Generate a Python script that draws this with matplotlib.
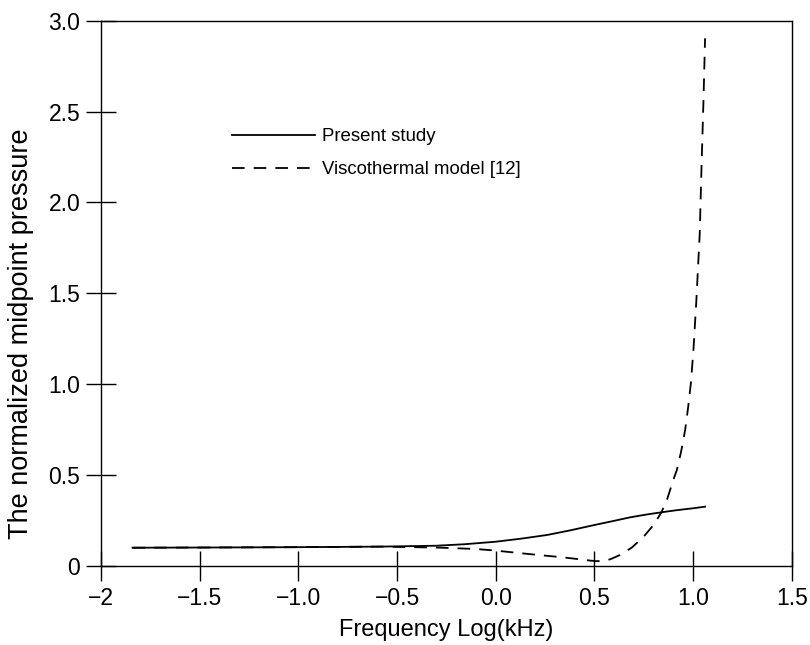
import matplotlib
matplotlib.use("Agg")
import matplotlib.pyplot as plt

plt.rcParams['font.family'] = ['Liberation Sans', 'DejaVu Sans']

# Data
present_x = [-1.84, -1.5, -1.0, -0.59, -0.3, -0.16, 0.0, 0.13, 0.26, 0.38, 0.5, 0.6, 0.68,
             0.76, 0.84, 0.92, 1.0, 1.061]
present_y = [0.099, 0.100, 0.102, 0.105, 0.110, 0.118, 0.132, 0.149, 0.169, 0.195, 0.224,
             0.247, 0.266, 0.281, 0.294, 0.306, 0.316, 0.325]

visco_x = [-1.84, -1.5, -1.0, -0.59, -0.3, -0.10, 0.0, 0.17, 0.34, 0.42, 0.48, 0.51, 0.54,
           0.58, 0.63, 0.69, 0.75, 0.80, 0.84, 0.87, 0.90, 0.918, 0.94, 0.96, 0.975, 0.989,
           1.002, 1.017, 1.034, 1.043, 1.053, 1.061]
visco_y = [0.099, 0.100, 0.102, 0.105, 0.100, 0.092, 0.083, 0.064, 0.046, 0.036, 0.028,
           0.025, 0.026, 0.035, 0.059, 0.100, 0.160, 0.224, 0.294, 0.370, 0.472, 0.527,
           0.630, 0.747, 0.870, 1.004, 1.187, 1.462, 1.829, 2.196, 2.563, 2.903]

x_ticks = [-2, -1.5, -1.0, -0.5, 0.0, 0.5, 1.0, 1.5]
x_labels = ["\u22122", "\u22121.5", "\u22121.0", "\u22120.5", "0.0", "0.5", "1.0", "1.5"]
y_ticks = [0, 0.5, 1.0, 1.5, 2.0, 2.5, 3.0]
y_labels = ["0", "0.5", "1.0", "1.5", "2.0", "2.5", "3.0"]

W, H = 810, 645
fig = plt.figure(figsize=(W / 100, H / 100), dpi=100)
ax = fig.add_axes([101 / W, 1 - 565.7 / H, (791.7 - 101) / W, (565.7 - 20.7) / H])

ax.plot(present_x, present_y, color='black', lw=1.3, label='Present study')
ax.plot(visco_x, visco_y, color='black', lw=1.3, linestyle=(0, (7, 5)),
        label='Viscothermal model [12]')

ax.set_xlim(-2, 1.5)
ax.set_ylim(0, 3.0)
ax.set_xticks(x_ticks)
ax.set_xticklabels(x_labels)
ax.set_yticks(y_ticks)
ax.set_yticklabels(y_labels)
ax.tick_params(direction='inout', length=22, width=1.0, labelsize=16.5)
ax.tick_params(axis='x', pad=4.0)
ax.tick_params(axis='y', pad=4.0)
for s in ax.spines.values():
    s.set_linewidth(1.0)

ax.set_xlabel('Frequency Log(kHz)', fontsize=17)
ax.xaxis.set_label_coords(0.5, -0.098)
ax.set_ylabel('The normalized midpoint pressure', fontsize=19.5, va='center')
ax.yaxis.set_label_coords((21.5 - 101) / 690.7, (565.7 - 334) / 545)

leg = ax.legend(loc='upper left', bbox_to_anchor=(232 / W, 1 - 128 / H),
                bbox_transform=fig.transFigure, frameon=False, fontsize=13.4,
                handlelength=4.46, handletextpad=0.38, labelspacing=0.86,
                borderpad=0, borderaxespad=0)

fig.savefig('out.png', dpi=100)
